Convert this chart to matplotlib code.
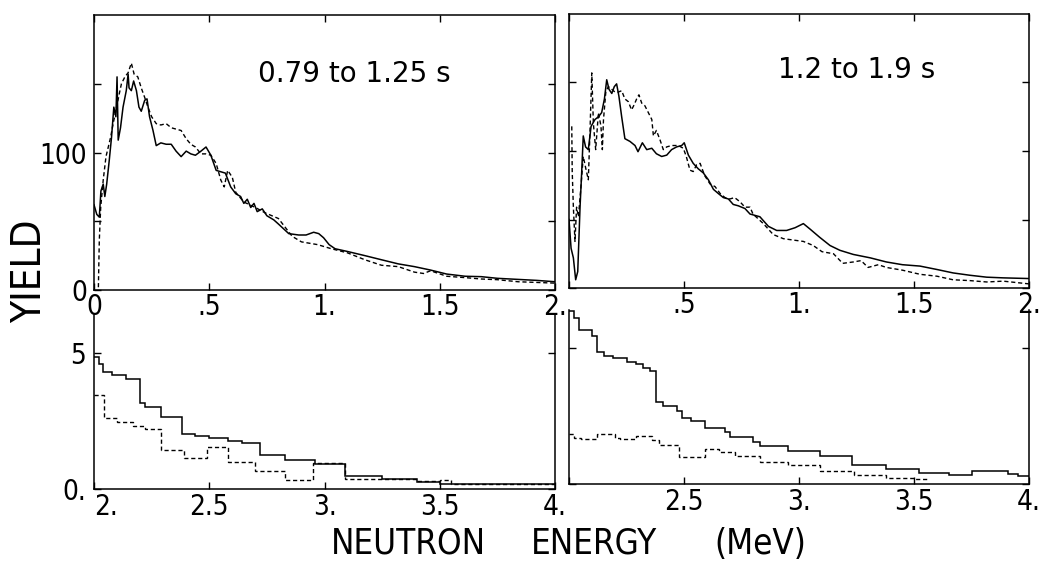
import numpy as np
import matplotlib
matplotlib.use("Agg")
import matplotlib.pyplot as plt
from matplotlib.ticker import FixedLocator, FixedFormatter

NARROW = dict(family="DejaVu Sans", stretch="condensed")

# top-left panel, 0.79 to 1.25 s
tl_solid_x = [0.0, 0.012, 0.023, 0.03, 0.04, 0.047, 0.055, 0.066, 0.076, 0.086, 0.095, 0.1, 0.105,
              0.115, 0.126, 0.14, 0.148, 0.152, 0.162, 0.172, 0.184, 0.195, 0.205, 0.22, 0.23, 0.241,
              0.256, 0.27, 0.29, 0.313, 0.335, 0.356, 0.378, 0.4, 0.42, 0.44, 0.464, 0.486, 0.507,
              0.53, 0.55, 0.57, 0.593, 0.615, 0.636, 0.65, 0.665, 0.68, 0.694, 0.708, 0.73, 0.75,
              0.78, 0.8, 0.845, 0.888, 0.92, 0.953, 0.975, 0.996, 1.02, 1.046, 1.10, 1.175, 1.247,
              1.32, 1.39, 1.46, 1.53, 1.61, 1.68, 1.75, 1.84, 1.92, 2.0]
tl_solid_y = [62, 55, 53, 72, 77, 68, 77, 94, 111, 133, 126, 155, 109,
              118, 133, 145, 157, 147, 145, 152, 145, 133, 130, 138, 139, 126,
              116, 105, 107, 106, 106, 101, 97, 101, 99, 98, 101, 104, 98,
              87, 86, 85, 75, 70, 68, 63, 66, 60, 63, 57, 59, 54,
              51, 48, 41, 40, 40, 42, 41, 38, 33, 30, 28, 25, 22,
              19, 17, 14.5, 11.6, 10, 9.7, 8.5, 7.7, 7, 6]
tl_dash_x = [0.019, 0.023, 0.029, 0.04, 0.052, 0.062, 0.072, 0.083, 0.098, 0.11, 0.119, 0.134,
             0.148, 0.162, 0.174, 0.19, 0.205, 0.22, 0.234, 0.25, 0.27, 0.29, 0.313, 0.335, 0.356,
             0.378, 0.4, 0.42, 0.44, 0.464, 0.486, 0.507, 0.53, 0.55, 0.565, 0.58, 0.6, 0.615,
             0.65, 0.7, 0.744, 0.8, 0.86, 0.9, 0.97, 1.03, 1.10, 1.175, 1.247, 1.32, 1.39, 1.43,
             1.46, 1.53, 1.61, 1.68, 1.75, 1.84, 1.92, 2.0]
tl_dash_y = [2, 36, 60, 80, 97, 104, 111, 121, 133, 143, 150, 155,
             158, 165, 157, 155, 147, 140, 133, 126, 121, 120, 121, 118, 117,
             116, 110, 106, 104, 99, 99, 98, 92, 80, 75, 87, 82, 71,
             64, 60, 56, 52, 39, 35, 33, 30, 27, 22, 18, 17, 13, 12,
             14, 10, 9, 8, 7.5, 6, 5.5, 5]

# top-right panel, 1.2 to 1.9 s
tr_solid_x = [0.0, 0.009, 0.019, 0.029, 0.038, 0.048, 0.055, 0.062, 0.072, 0.084, 0.096, 0.113,
              0.128, 0.142, 0.154, 0.164, 0.174, 0.186, 0.197, 0.207, 0.217, 0.229, 0.243, 0.265,
              0.287, 0.30, 0.319, 0.338, 0.36, 0.38, 0.403, 0.425, 0.446, 0.468, 0.49, 0.501,
              0.519, 0.54, 0.562, 0.584, 0.606, 0.628, 0.649, 0.671, 0.693, 0.714, 0.736, 0.765,
              0.787, 0.83, 0.867, 0.903, 0.946, 0.983, 1.019, 1.048, 1.09, 1.135, 1.178, 1.236,
              1.31, 1.38, 1.45, 1.526, 1.6, 1.67, 1.743, 1.816, 1.888, 2.0]
tr_solid_y = [50, 29, 22, 6, 12, 59, 84, 111, 103, 101, 118, 123,
              125, 128, 138, 152, 145, 142, 147, 149, 140, 125, 109, 107,
              104, 99.5, 106, 101, 102, 98, 96, 97, 101, 103, 104, 106,
              97, 91, 87, 84, 79, 72, 69, 66, 65, 61, 60, 58,
              54, 52, 45, 42, 42, 44, 47, 43, 37, 31, 27.5, 24.5,
              22, 19, 17, 16, 13.5, 11, 9.3, 7.9, 7.4, 6.9]
tr_dash_x = [0.012, 0.014, 0.019, 0.026, 0.033, 0.041, 0.052, 0.062, 0.072, 0.084, 0.091, 0.099,
             0.106, 0.116, 0.128, 0.139, 0.145, 0.15, 0.16, 0.171, 0.186, 0.2, 0.214, 0.229, 0.243,
             0.258, 0.272, 0.284, 0.294, 0.304, 0.316, 0.33, 0.345, 0.36, 0.367, 0.38, 0.396,
             0.41, 0.425, 0.446, 0.475, 0.497, 0.51, 0.526, 0.54, 0.555, 0.57, 0.59, 0.613,
             0.635, 0.657, 0.678, 0.7, 0.72, 0.743, 0.765, 0.787, 0.8, 0.845, 0.888, 0.932,
             0.975, 1.019, 1.062, 1.1, 1.15, 1.19, 1.236, 1.27, 1.3, 1.345, 1.38, 1.45, 1.526,
             1.6, 1.67, 1.743, 1.816, 1.888, 2.0]
tr_dash_y = [118, 85, 59, 34, 59, 52, 74, 96, 88, 79, 113, 157,
             120, 101, 128, 118, 101, 123, 143, 147, 145, 143, 143, 144, 138,
             136, 130, 134, 138, 141, 135, 133, 128, 123, 111, 115, 108,
             101, 103, 104, 104, 102, 96, 86, 85, 90, 91, 82, 76,
             74, 69, 66, 65, 66, 63, 59, 59, 54, 47, 39, 36,
             35, 34, 31, 26.5, 25, 18, 19, 20, 15, 17, 15, 13, 10,
             8.6, 6, 5.4, 4.4, 5, 3]

# bottom panels, 2 to 4 MeV, histogram steps
bl_solid_edges = [2.00, 2.02, 2.04, 2.08, 2.14, 2.20, 2.22, 2.29, 2.38, 2.44, 2.50, 2.58, 2.64,
                  2.72, 2.83, 2.96, 3.09, 3.25, 3.40, 3.50, 4.00]
bl_solid_vals = [4.85, 4.6, 4.3, 4.2, 4.05, 3.15, 3.02, 2.64, 2.02, 1.95, 1.87, 1.76, 1.68,
                 1.25, 1.05, 0.91, 0.49, 0.37, 0.27, 0.17]
bl_dash_edges = [2.00, 2.045, 2.10, 2.17, 2.22, 2.29, 2.39, 2.49, 2.58, 2.70, 2.83, 2.95, 3.09,
                 3.40, 3.50, 3.55, 4.00]
bl_dash_vals = [3.45, 2.6, 2.45, 2.33, 2.22, 1.42, 1.13, 1.54, 0.98, 0.66, 0.33, 0.96, 0.36,
                0.30, 0.32, 0.17]
br_solid_edges = [2.00, 2.02, 2.045, 2.10, 2.12, 2.15, 2.19, 2.25, 2.29, 2.32, 2.35, 2.38, 2.41,
                  2.47, 2.49, 2.53, 2.59, 2.68, 2.70, 2.80, 2.83, 2.95, 3.09, 3.23, 3.38, 3.52,
                  3.65, 3.75, 3.91, 3.95, 4.00]
br_solid_vals = [6.35, 6.1, 5.65, 5.45, 4.85, 4.72, 4.63, 4.5, 4.4, 4.28, 4.15, 3.0, 2.87,
                 2.68, 2.44, 2.3, 2.07, 1.92, 1.72, 1.55, 1.39, 1.2, 1.04, 0.7, 0.55, 0.42,
                 0.34, 0.47, 0.37, 0.28]
br_dash_edges = [2.00, 2.02, 2.05, 2.12, 2.20, 2.22, 2.29, 2.36, 2.39, 2.48, 2.59, 2.65, 2.72,
                 2.83, 2.95, 3.09, 3.24, 3.38, 3.50, 3.56]
br_dash_vals = [1.85, 1.7, 1.64, 1.85, 1.7, 1.64, 1.76, 1.62, 1.43, 1.0, 1.29, 1.18, 1.02,
                0.8, 0.7, 0.47, 0.32, 0.22, 0.17]

top_xticks = [0, 0.5, 1.0, 1.5, 2.0]
top_xlabels = ["0", ".5", "1.", "1.5", "2."]
top_yticks = [0, 50, 100, 150]
top_ylabels = ["0", "", "100", ""]
bot_xticks = [2.0, 2.5, 3.0, 3.5, 4.0]
bot_xlabels = ["2.", "2.5", "3.", "3.5", "4."]
bot_yticks = [0, 5]
bot_ylabels = ["0.", "5"]

W, H = 1049, 563
fig = plt.figure(figsize=(W / 100, H / 100), dpi=100)
fig.patch.set_facecolor("white")


def box(l, r, t, b):
    return [l / W, 1 - b / H, (r - l) / W, (b - t) / H]


ax_bl = fig.add_axes(box(94, 555, 315, 489))
ax_br = fig.add_axes(box(569, 1029, 310, 484))
ax_tl = fig.add_axes(box(94, 555, 15, 290))
ax_tr = fig.add_axes(box(569, 1029, 14, 288))
for ax in [ax_bl, ax_br]:
    ax.patch.set_visible(False)

solid = dict(color="black", linewidth=1.1)
dashed = dict(color="black", linewidth=1.0, linestyle=(0, (3, 2)))

ax_tl.plot(tl_solid_x, tl_solid_y, **solid)
ax_tl.plot(tl_dash_x, tl_dash_y, **dashed)
ax_tr.plot(tr_solid_x, tr_solid_y, **solid)
ax_tr.plot(tr_dash_x, tr_dash_y, **dashed)
ax_bl.stairs(bl_solid_vals, bl_solid_edges, baseline=None, **solid)
ax_bl.stairs(bl_dash_vals, bl_dash_edges, baseline=None, **dashed)
ax_br.stairs(br_solid_vals, br_solid_edges, baseline=None, **solid)
ax_br.stairs(br_dash_vals, br_dash_edges, baseline=None, **dashed)

for i, ax in enumerate([ax_tl, ax_tr]):
    ax.set_xlim(0, 2)
    ax.set_ylim(0, 200)
    ax.xaxis.set_major_locator(FixedLocator(top_xticks))
    ax.xaxis.set_major_formatter(FixedFormatter(top_xlabels if i == 0 else [""] + top_xlabels[1:]))
    ax.yaxis.set_major_locator(FixedLocator(top_yticks))
    ax.yaxis.set_major_formatter(FixedFormatter(top_ylabels if i == 0 else [""] * 4))
    ax.tick_params(direction="in", top=True, right=True, length=5, width=1,
                   labelsize=20, pad=2)
    ax.tick_params(axis="y", pad=5)

for i, ax in enumerate([ax_bl, ax_br]):
    ax.set_xlim(2, 4)
    ax.set_ylim(0, 6.4)
    ax.spines["top"].set_visible(False)
    ax.xaxis.set_major_locator(FixedLocator(bot_xticks))
    ax.xaxis.set_major_formatter(FixedFormatter(bot_xlabels if i == 0 else [""] + bot_xlabels[1:]))
    ax.yaxis.set_major_locator(FixedLocator(bot_yticks))
    ax.yaxis.set_major_formatter(FixedFormatter(bot_ylabels if i == 0 else ["", ""]))
    ax.tick_params(direction="in", top=False, right=True, length=5, width=1,
                   labelsize=20, pad=3)
    ax.tick_params(axis="y", pad=6)

for ax in [ax_tl, ax_tr, ax_bl, ax_br]:
    for sp in ax.spines.values():
        sp.set_linewidth(1.1)
    for lab in ax.get_xticklabels() + ax.get_yticklabels():
        lab.set_family(NARROW["family"])
        lab.set_stretch(NARROW["stretch"])

# the "2." under the bottom-left corner sits right of its tick
ax_bl.get_xticklabels()[0].set_horizontalalignment("left")

ax_tl.text(0.356, 0.785, "0.79 to 1.25 s", transform=ax_tl.transAxes,
           ha="left", va="center", fontsize=20, family="DejaVu Sans")
ax_tr.text(0.454, 0.796, "1.2 to 1.9 s", transform=ax_tr.transAxes,
           ha="left", va="center", fontsize=20, family="DejaVu Sans")

fig.text(30 / W, 1 - 271 / H, "YIELD", rotation=90, ha="center", va="center",
         fontsize=29, **NARROW)
for word, mid in [("NEUTRON", 408), ("ENERGY", 594), ("(MeV)", 760)]:
    fig.text(mid / W, 1 - 544 / H, word, ha="center", va="center", fontsize=25, **NARROW)

fig.savefig("out.png", dpi=100, facecolor="white")
